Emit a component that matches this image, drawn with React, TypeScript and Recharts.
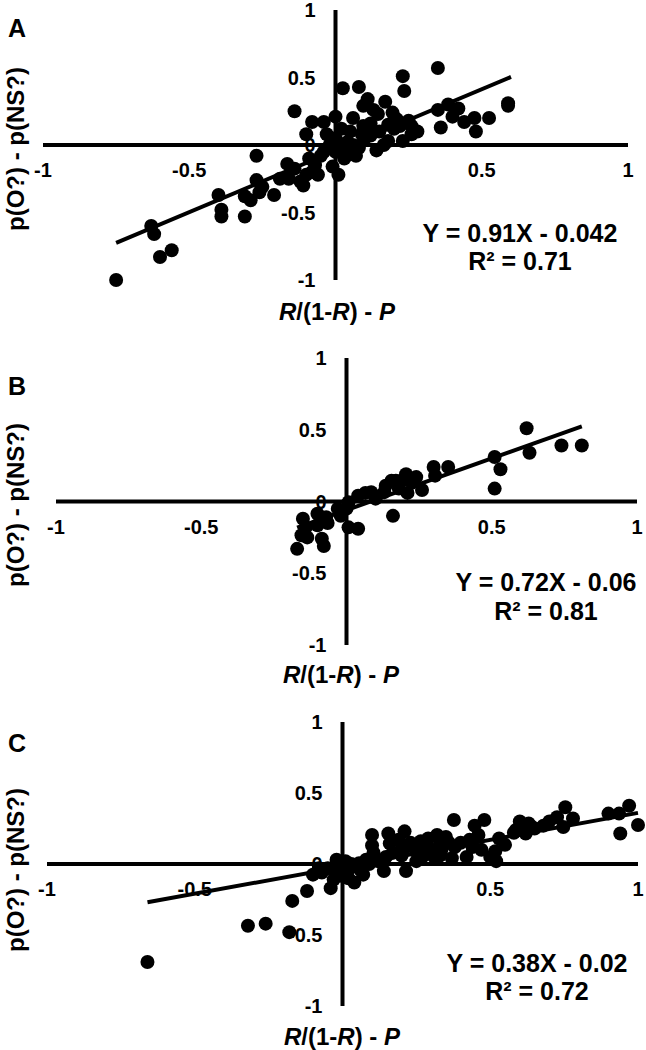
import React from 'react';
import { ScatterChart, Scatter, XAxis, YAxis, ReferenceLine, ReferenceDot } from 'recharts';

const FONT = '"Liberation Sans", Arial, Helvetica, sans-serif';

// ---------- data ----------
const pointsA: [number, number][] = [
  [-0.75, -1.0], [-0.6, -0.83], [-0.56, -0.78], [-0.62, -0.66], [-0.63, -0.6],
  [-0.4, -0.37], [-0.39, -0.48], [-0.39, -0.53], [-0.31, -0.53], [-0.31, -0.38],
  [-0.29, -0.41], [-0.27, -0.26], [-0.27, -0.08], [-0.25, -0.31], [-0.21, -0.37],
  [-0.26, -0.35], [-0.19, -0.25], [-0.165, -0.14], [-0.16, -0.25], [-0.14, -0.175],
  [-0.12, -0.27], [-0.11, -0.3], [-0.1, -0.22], [-0.09, -0.1], [-0.07, -0.15],
  [-0.06, -0.22], [-0.04, -0.05], [-0.01, -0.16], [-0.02, 0.0], [-0.14, 0.25],
  [-0.1, 0.08], [-0.08, 0.17], [-0.04, 0.17], [0.0, 0.21], [0.025, 0.42],
  [0.08, 0.43], [0.06, 0.2], [0.02, 0.12], [0.04, 0.02], [0.0, -0.05],
  [0.045, -0.07], [0.07, -0.08], [0.095, 0.14], [0.11, 0.34], [0.095, 0.29],
  [0.13, 0.26], [0.145, 0.23], [0.17, 0.32], [0.195, 0.24], [0.21, 0.19],
  [0.23, 0.51], [0.235, 0.4], [0.22, 0.14], [0.26, 0.14], [0.26, 0.08],
  [0.23, 0.03], [0.18, 0.03], [0.14, -0.04], [0.165, 0.0], [0.12, 0.07],
  [0.35, 0.57], [0.36, 0.13], [0.35, 0.26], [0.385, 0.3], [0.4, 0.21],
  [0.42, 0.27], [0.44, 0.17], [0.475, 0.2], [0.48, 0.1], [0.525, 0.2],
  [0.59, 0.31], [0.59, 0.29], [0.05, 0.1], [0.1, 0.05], [0.0, 0.05],
  [0.08, -0.02], [-0.03, 0.08], [0.12, 0.16], [0.03, -0.1], [-0.05, -0.08],
  [-0.08, -0.2], [0.01, -0.22], [0.15, 0.1], [0.2, 0.12], [0.25, 0.18],
  [0.06, 0.0], [0.02, -0.03], [0.09, 0.08], [0.18, 0.15], [0.28, 0.1],
];

const pointsB: [number, number][] = [
  [0.62, 0.51], [0.63, 0.34], [0.74, 0.39], [0.81, 0.39], [0.51, 0.31],
  [0.53, 0.225], [0.51, 0.09], [0.35, 0.24], [0.3, 0.24], [0.305, 0.18],
  [0.26, 0.08], [0.24, 0.17], [0.205, 0.19], [0.21, 0.06], [0.17, 0.145],
  [0.18, 0.09], [0.16, -0.1], [0.135, 0.11], [0.13, 0.065], [0.1, 0.02],
  [0.085, 0.065], [0.065, 0.06], [0.04, 0.04], [0.04, -0.19], [0.007, -0.005],
  [0.0, -0.05], [0.007, -0.18], [-0.03, -0.05], [-0.02, -0.1], [-0.065, -0.15],
  [-0.07, -0.11], [-0.1, -0.085], [-0.15, -0.12], [-0.14, -0.18], [-0.155, -0.235],
  [-0.135, -0.25], [-0.17, -0.33], [-0.085, -0.26], [-0.078, -0.31], [-0.1, -0.165],
  [0.155, 0.145], [0.19, 0.145], [0.225, 0.13],
];

const pointsC: [number, number][] = [
  [-0.66, -0.69], [-0.32, -0.435], [-0.26, -0.42], [-0.18, -0.48], [-0.17, -0.26],
  [-0.12, -0.19], [-0.1, -0.075], [-0.07, -0.06], [-0.04, -0.17], [-0.03, -0.11],
  [-0.015, -0.04], [0.0, -0.085], [0.02, -0.04], [0.04, -0.13], [0.07, -0.075],
  [0.056, 0.005], [0.1, 0.205], [0.105, 0.08], [0.14, -0.05], [0.147, 0.05],
  [0.155, 0.215], [0.16, 0.145], [0.19, 0.17], [0.21, 0.23], [0.215, 0.12],
  [0.215, -0.05], [0.25, 0.09], [0.265, 0.16], [0.29, 0.18], [0.31, 0.05],
  [0.32, 0.205], [0.335, 0.1], [0.35, 0.19], [0.37, 0.04], [0.377, 0.31],
  [0.42, 0.05], [0.43, 0.17], [0.447, 0.27], [0.46, 0.205], [0.48, 0.31],
  [0.5, 0.05], [0.517, 0.09], [0.53, 0.18], [0.55, 0.135], [0.587, 0.24],
  [0.6, 0.3], [0.63, 0.285], [0.642, 0.26], [0.62, 0.215], [0.726, 0.33],
  [0.754, 0.4], [0.747, 0.26], [0.78, 0.32], [0.9, 0.355], [0.936, 0.355],
  [0.97, 0.41], [0.94, 0.215], [1.0, 0.275], [0.01, 0.02], [-0.01, -0.02],
  [0.03, 0.0], [0.08, 0.03], [0.12, 0.02], [0.2, 0.06], [0.25, 0.02],
  [0.28, 0.12], [0.33, 0.14], [0.38, 0.12], [0.4, 0.15], [0.47, 0.1],
  [0.52, 0.02], [0.6, 0.24], [0.65, 0.25], [0.7, 0.3], [0.2, 0.1],
  [0.1, 0.13], [-0.05, -0.03], [0.05, -0.02], [-0.08, -0.03], [0.02, -0.1],
  [-0.02, 0.03], [0.06, -0.04], [0.09, 0.0], [0.17, 0.08], [0.23, 0.15],
  [0.3, 0.1], [0.36, 0.15], [0.44, 0.12], [0.33, 0.06], [0.27, 0.05],
  [0.58, 0.22], [0.68, 0.27],
];

const trendA: [number, number][] = [[-0.75, -0.725], [0.6, 0.504]];
const trendB: [number, number][] = [[-0.17, -0.182], [0.81, 0.523]];
const trendC: [number, number][] = [[-0.66, -0.27], [1.0, 0.36]];

const xTickValues = [-1, -0.5, 0.5, 1];
const xTickLabels = ['-1', '-0.5', '0.5', '1'];
const yTickValues = [-1, -0.5, 0, 0.5, 1];
const yTickLabels = ['-1', '-0.5', '0', '0.5', '1'];

const panelLetters = ['A', 'B', 'C'];
const equations = ['Y = 0.91X - 0.042', 'Y = 0.72X - 0.06', 'Y = 0.38X - 0.02'];
const r2Labels = ['R\u00B2 = 0.71', 'R\u00B2 = 0.81', 'R\u00B2 = 0.72'];
const yTitle = 'p(O?) - p(NS?)';

// ---------- layout ----------
const W = 646;
const panels = [
  { points: pointsA, trend: trendA, top: 0, height: 330, margin: { top: 10, bottom: 50, left: 43, right: 18 },
    letterY: 37, yTitleY: 149, xTitleX: 337, xTitleY: 320, eqX: 520, eqY: 242, r2Y: 270 },
  { points: pointsB, trend: trendB, top: 330, height: 360, margin: { top: 28, bottom: 45, left: 56, right: 9 },
    letterY: 395, yTitleY: 505, xTitleX: 341, xTitleY: 683, eqX: 546, eqY: 591, r2Y: 620 },
  { points: pointsC, trend: trendC, top: 690, height: 360, margin: { top: 32, bottom: 44, left: 47, right: 8 },
    letterY: 752, yTitleY: 870, xTitleX: 342, xTitleY: 1045, eqX: 537, eqY: 972, r2Y: 1000 },
];

const Dot = (props: any) => <circle cx={props.cx} cy={props.cy} r={7} fill="#000" />;

const tickStyle = { fontSize: 20, fontWeight: 'bold', fill: '#000', fontFamily: FONT };

function Panel({ cfg }: { cfg: typeof panels[number] }) {
  const data = cfg.points.map(([x, y]) => ({ x, y }));
  return (
    <div style={{ position: 'absolute', left: 0, top: cfg.top }}>
      <ScatterChart width={W} height={cfg.height} margin={cfg.margin}>
        <XAxis type="number" dataKey="x" domain={[-1, 1]} hide />
        <YAxis type="number" dataKey="y" domain={[-1, 1]} hide />
        <ReferenceLine y={0} stroke="#000" strokeWidth={4} ifOverflow="visible" />
        <ReferenceLine x={0} stroke="#000" strokeWidth={4} ifOverflow="visible" />
        {xTickValues.map((v, i) => (
          <ReferenceDot key={'xt' + i} x={v} y={0} r={0} fill="none" stroke="none" ifOverflow="visible"
            label={{ value: xTickLabels[i], position: 'bottom', offset: 18, ...tickStyle }} />
        ))}
        {yTickValues.map((v, i) => (
          <ReferenceDot key={'yt' + i} x={0} y={v} r={0} fill="none" stroke="none" ifOverflow="visible"
            label={{ value: yTickLabels[i], position: 'left', offset: 20, ...tickStyle }} />
        ))}
        <Scatter data={data} shape={Dot} isAnimationActive={false} />
        <ReferenceLine
          segment={[{ x: cfg.trend[0][0], y: cfg.trend[0][1] }, { x: cfg.trend[1][0], y: cfg.trend[1][1] }]}
          stroke="#000" strokeWidth={4} ifOverflow="visible" />
      </ScatterChart>
    </div>
  );
}

export default function App() {
  return (
    <div style={{ position: 'absolute', left: 0, top: 0, width: W, height: 1050, background: '#fff' }}>
      <svg width={W} height={1050} style={{ position: 'absolute', left: 0, top: 0 }}>
        {panels.map((p, i) => (
          <g key={i} fontFamily={FONT} fontWeight="bold" fill="#000">
            <text x={8} y={p.letterY} fontSize={25}>{panelLetters[i]}</text>
            <text x={24} y={p.yTitleY} fontSize={24} textAnchor="middle"
              transform={`rotate(-90 24 ${p.yTitleY})`}>{yTitle}</text>
            <text x={p.xTitleX} y={p.xTitleY} fontSize={24} textAnchor="middle">
              <tspan fontStyle="italic">R</tspan>/(1-<tspan fontStyle="italic">R</tspan>) - <tspan fontStyle="italic">P</tspan>
            </text>
            <text x={p.eqX} y={p.eqY} fontSize={25} textAnchor="middle">{equations[i]}</text>
            <text x={p.eqX} y={p.r2Y} fontSize={25} textAnchor="middle">{r2Labels[i]}</text>
          </g>
        ))}
      </svg>
      {panels.map((p, i) => <Panel key={i} cfg={p} />)}
    </div>
  );
}
